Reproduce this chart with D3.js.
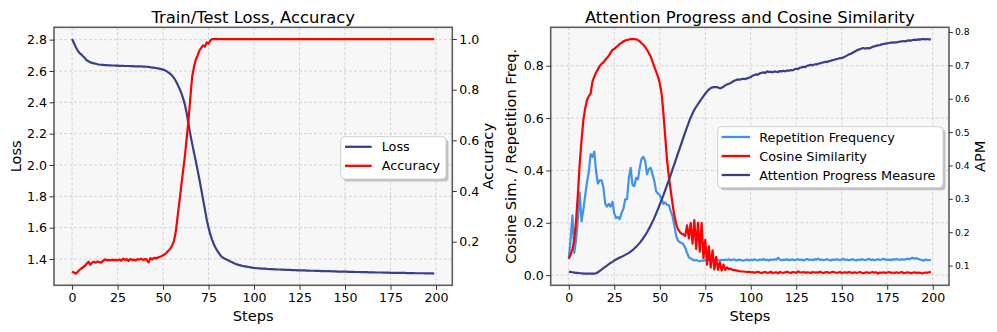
<!DOCTYPE html>
<html>
<head>
<meta charset="utf-8">
<script src="https://cdn.jsdelivr.net/npm/d3@7"></script>
<style>
  html, body { margin: 0; padding: 0; background: #ffffff; }
  svg { display: block; }
</style>
</head>
<body>
<svg id="chart" width="997" height="332"></svg>
<script>
// ---------------- DATA ----------------
const steps = d3.range(0, 200);

const lossValues = [
  2.804, 2.779, 2.753, 2.732, 2.715, 2.706, 2.694, 2.683, 2.668, 2.662, 2.655,
  2.652, 2.649, 2.646, 2.643, 2.641, 2.640, 2.639, 2.638, 2.637, 2.636,
  2.636, 2.635, 2.635, 2.634, 2.634, 2.633, 2.633, 2.633, 2.632, 2.632,
  2.632, 2.631, 2.631, 2.630, 2.630, 2.630, 2.629, 2.629, 2.628, 2.628,
  2.627, 2.626, 2.624, 2.622, 2.621, 2.619, 2.617, 2.615, 2.612, 2.609,
  2.604, 2.598, 2.590, 2.581, 2.569, 2.555, 2.536, 2.513, 2.488, 2.460,
  2.425, 2.385, 2.330, 2.260, 2.195, 2.135, 2.078, 2.023, 1.965, 1.906,
  1.843, 1.779, 1.715, 1.651, 1.600, 1.555, 1.520, 1.491, 1.468, 1.449,
  1.432, 1.417, 1.408, 1.401, 1.396, 1.390, 1.384, 1.379, 1.373, 1.368,
  1.364, 1.361, 1.358, 1.355, 1.353, 1.351, 1.349, 1.347, 1.345, 1.343,
  1.342, 1.341, 1.340, 1.339, 1.338, 1.338, 1.337, 1.336, 1.336, 1.335,
  1.334, 1.334, 1.333, 1.333, 1.332, 1.332, 1.331, 1.331, 1.330, 1.330,
  1.329, 1.329, 1.329, 1.328, 1.328, 1.327, 1.327, 1.327, 1.326, 1.326,
  1.325, 1.325, 1.325, 1.324, 1.324, 1.324, 1.323, 1.323, 1.323, 1.322,
  1.322, 1.322, 1.321, 1.321, 1.321, 1.320, 1.320, 1.320, 1.319, 1.319,
  1.319, 1.318, 1.318, 1.318, 1.318, 1.317, 1.317, 1.317, 1.316, 1.316,
  1.316, 1.316, 1.315, 1.315, 1.315, 1.315, 1.314, 1.314, 1.314, 1.314,
  1.313, 1.313, 1.313, 1.313, 1.312, 1.312, 1.312, 1.312, 1.311, 1.311,
  1.311, 1.311, 1.311, 1.310, 1.310, 1.310, 1.310, 1.310, 1.309, 1.309,
  1.309, 1.309, 1.309, 1.308, 1.308, 1.308, 1.308, 1.308, 1.307
];

const accuracyValues = [
  0.083, 0.078, 0.074, 0.080, 0.088, 0.094, 0.099, 0.104, 0.113, 0.121, 0.108,
  0.118, 0.121, 0.117, 0.122, 0.119, 0.117, 0.124, 0.130, 0.127, 0.128,
  0.126, 0.129, 0.127, 0.128, 0.126, 0.130, 0.125, 0.133, 0.128, 0.131,
  0.124, 0.132, 0.127, 0.129, 0.126, 0.131, 0.129, 0.133, 0.128, 0.131,
  0.130, 0.118, 0.135, 0.130, 0.136, 0.134, 0.137, 0.139, 0.142, 0.146,
  0.151, 0.157, 0.165, 0.172, 0.185, 0.203, 0.240, 0.301, 0.360, 0.420,
  0.480, 0.538, 0.610, 0.682, 0.770, 0.853, 0.890, 0.919, 0.935, 0.955,
  0.965, 0.975, 0.970, 0.987, 0.982, 0.995, 1.000, 1.000, 1.000, 1.000,
  1, 1, 1, 1, 1, 1, 1, 1, 1, 1,
  1, 1, 1, 1, 1, 1, 1, 1, 1, 1,
  1, 1, 1, 1, 1, 1, 1, 1, 1, 1,
  1, 1, 1, 1, 1, 1, 1, 1, 1, 1,
  1, 1, 1, 1, 1, 1, 1, 1, 1, 1,
  1, 1, 1, 1, 1, 1, 1, 1, 1, 1,
  1, 1, 1, 1, 1, 1, 1, 1, 1, 1,
  1, 1, 1, 1, 1, 1, 1, 1, 1, 1,
  1, 1, 1, 1, 1, 1, 1, 1, 1, 1,
  1, 1, 1, 1, 1, 1, 1, 1, 1, 1,
  1, 1, 1, 1, 1, 1, 1, 1, 1, 1,
  1, 1, 1, 1, 1, 1, 1, 1, 1
];

const repetitionFreq = [
  0.061, 0.140, 0.228, 0.085, 0.135, 0.215, 0.315, 0.205, 0.250, 0.305,
  0.355, 0.395, 0.462, 0.452, 0.472, 0.395, 0.350, 0.362, 0.362, 0.336,
  0.273, 0.262, 0.272, 0.262, 0.280, 0.235, 0.218, 0.222, 0.214, 0.238,
  0.253, 0.290, 0.290, 0.370, 0.410, 0.345, 0.340, 0.372, 0.366, 0.410,
  0.445, 0.452, 0.435, 0.385, 0.405, 0.410, 0.385, 0.360, 0.320, 0.312,
  0.305, 0.292, 0.272, 0.278, 0.268, 0.268, 0.245, 0.225, 0.190, 0.150,
  0.132, 0.126, 0.123, 0.118, 0.105, 0.085, 0.068, 0.064, 0.060, 0.056,
  0.058, 0.055, 0.053, 0.056, 0.055,
  0.057, 0.058, 0.060, 0.058, 0.059, 0.057, 0.060, 0.058, 0.056, 0.059,
  0.057, 0.060, 0.058, 0.061, 0.057, 0.059, 0.060, 0.056, 0.058, 0.059,
  0.057, 0.055, 0.058, 0.060, 0.056, 0.059, 0.057, 0.061, 0.058, 0.056,
  0.060, 0.058, 0.062, 0.057, 0.059, 0.056, 0.060, 0.058, 0.061, 0.059,
  0.066, 0.060, 0.057, 0.059, 0.058, 0.061, 0.057, 0.059, 0.060, 0.057,
  0.059, 0.061, 0.058, 0.060, 0.056, 0.059, 0.062, 0.058, 0.060, 0.057,
  0.061, 0.059, 0.063, 0.058, 0.060, 0.057, 0.059, 0.061, 0.058, 0.056,
  0.060, 0.058, 0.061, 0.059, 0.057, 0.060, 0.062, 0.058, 0.060, 0.057,
  0.059, 0.061, 0.058, 0.056, 0.060, 0.058, 0.061, 0.059, 0.057, 0.060,
  0.062, 0.058, 0.060, 0.057, 0.059, 0.061, 0.058, 0.060, 0.063, 0.059,
  0.058, 0.060, 0.057, 0.061, 0.059, 0.062, 0.060, 0.058, 0.061, 0.059,
  0.060, 0.063, 0.061, 0.064, 0.066, 0.063, 0.065, 0.062, 0.060, 0.058,
  0.055, 0.060, 0.058, 0.057, 0.059
];

const cosineSim = [
  0.064, 0.078, 0.100, 0.132, 0.208, 0.311, 0.426, 0.515, 0.592, 0.637, 0.669,
  0.684, 0.694, 0.739, 0.758, 0.774, 0.786, 0.799, 0.807, 0.813, 0.822,
  0.830, 0.838, 0.850, 0.861, 0.864, 0.871, 0.876, 0.884, 0.887, 0.893,
  0.896, 0.899, 0.900, 0.902, 0.902, 0.902, 0.901, 0.898, 0.893, 0.886,
  0.880, 0.871, 0.861, 0.848, 0.835, 0.816, 0.797, 0.777, 0.758, 0.733,
  0.694, 0.618, 0.528, 0.439, 0.375, 0.324, 0.272, 0.228, 0.196, 0.176,
  0.165, 0.158, 0.155, 0.150, 0.190, 0.140, 0.200, 0.120, 0.210, 0.100,
  0.200, 0.090, 0.200, 0.065, 0.135, 0.040, 0.110, 0.030, 0.095, 0.022,
  0.070, 0.020, 0.050, 0.018, 0.040, 0.020, 0.030, 0.022, 0.025, 0.020,
  0.019, 0.018, 0.016, 0.015, 0.014, 0.014, 0.013, 0.012, 0.013, 0.011,
  0.012, 0.009, 0.011, 0.013, 0.010, 0.008, 0.011, 0.012, 0.009, 0.010,
  0.013, 0.008, 0.010, 0.011, 0.007, 0.012, 0.010, 0.009, 0.011, 0.013,
  0.010, 0.008, 0.012, 0.011, 0.009, 0.014, 0.011, 0.010, 0.012, 0.009,
  0.011, 0.010, 0.008, 0.012, 0.010, 0.011, 0.009, 0.013, 0.010, 0.008,
  0.011, 0.012, 0.009, 0.010, 0.013, 0.011, 0.009, 0.010, 0.012, 0.008,
  0.010, 0.011, 0.009, 0.012, 0.010, 0.008, 0.011, 0.009, 0.010, 0.012,
  0.009, 0.007, 0.010, 0.011, 0.008, 0.010, 0.012, 0.009, 0.011, 0.006,
  0.010, 0.009, 0.011, 0.008, 0.010, 0.012, 0.009, 0.010, 0.008, 0.011,
  0.009, 0.010, 0.012, 0.008, 0.009, 0.011, 0.010, 0.007, 0.009, 0.011,
  0.008, 0.010, 0.009, 0.007, 0.008, 0.010, 0.009, 0.011, 0.013
];

const apmValues = [
  0.081, 0.081, 0.080, 0.079, 0.078, 0.078, 0.077, 0.077, 0.076, 0.076,
  0.076, 0.076, 0.076, 0.076, 0.076, 0.077, 0.080, 0.084, 0.088, 0.092,
  0.096, 0.100, 0.104, 0.108, 0.111, 0.115, 0.118, 0.121, 0.124, 0.126,
  0.129, 0.132, 0.135, 0.138, 0.142, 0.146, 0.151, 0.156, 0.162, 0.168,
  0.175, 0.183, 0.191, 0.200, 0.210, 0.220, 0.231, 0.243, 0.256, 0.269,
  0.283, 0.297, 0.311, 0.326, 0.341, 0.356, 0.372, 0.388, 0.404, 0.420,
  0.436, 0.452, 0.468, 0.484, 0.500, 0.515, 0.530, 0.544, 0.556, 0.567,
  0.576, 0.584, 0.592, 0.600, 0.608, 0.615, 0.622, 0.628, 0.632, 0.634,
  0.635, 0.635, 0.634, 0.631, 0.633, 0.636, 0.640, 0.643, 0.645, 0.647,
  0.651, 0.654, 0.656, 0.658, 0.657, 0.659, 0.660, 0.659, 0.661, 0.663,
  0.665, 0.669, 0.671, 0.673, 0.672, 0.676, 0.678, 0.679, 0.677, 0.682,
  0.680, 0.681, 0.679, 0.682, 0.681, 0.680, 0.683, 0.682, 0.684, 0.682,
  0.685, 0.684, 0.686, 0.685, 0.688, 0.690, 0.689, 0.693, 0.694, 0.696,
  0.695, 0.699, 0.700, 0.702, 0.700, 0.703, 0.703, 0.705, 0.706, 0.708,
  0.709, 0.711, 0.710, 0.713, 0.714, 0.716, 0.717, 0.719, 0.720, 0.722,
  0.722, 0.724, 0.727, 0.730, 0.733, 0.735, 0.738, 0.741, 0.744, 0.747,
  0.748, 0.751, 0.752, 0.750, 0.752, 0.751, 0.753, 0.756, 0.757, 0.759,
  0.760, 0.761, 0.763, 0.764, 0.765, 0.766, 0.767, 0.768, 0.768, 0.769,
  0.769, 0.770, 0.771, 0.772, 0.773, 0.772, 0.774, 0.775, 0.774, 0.776,
  0.777, 0.776, 0.778, 0.777, 0.779, 0.779, 0.778, 0.779, 0.778, 0.778
];

const xTicks = [0, 25, 50, 75, 100, 125, 150, 175, 200];
const lossTicks = [1.4, 1.6, 1.8, 2.0, 2.2, 2.4, 2.6, 2.8];
const accTicks = [0.2, 0.4, 0.6, 0.8, 1.0];
const cosTicks = [0.0, 0.2, 0.4, 0.6, 0.8];
const apmTicks = [0.1, 0.2, 0.3, 0.4, 0.5, 0.6, 0.7, 0.8];

[lossValues, accuracyValues, repetitionFreq, cosineSim, apmValues].forEach((a, i) => {
  if (a.length !== steps.length) throw new Error('series ' + i + ' has length ' + a.length);
});

// ---------------- STYLE ----------------
const FONT = '"DejaVu Sans", "Liberation Sans", sans-serif';
const NAVY = '#3b3e8a';
const RED = '#ff0000';
const BLUE = '#3f93ea';
const SPINE = '#5e5e5e';

const svg = d3.select('#chart');

function padded(vals) {
  const [a, b] = d3.extent(vals);
  const r = b - a;
  return [a - 0.05 * r, b + 0.05 * r];
}

function styleAxis(g, size) {
  g.attr('font-family', FONT).attr('font-size', size);
  g.select('.domain').remove();
  g.selectAll('.tick line').attr('stroke', '#333').attr('stroke-width', 1);
  g.selectAll('.tick text').attr('fill', '#000');
}

function drawLegend(g, box, items) {
  g.append('rect')
    .attr('x', box.x + 2.5).attr('y', box.y + 2.5)
    .attr('width', box.w).attr('height', box.h)
    .attr('rx', 4).attr('fill', '#8c8c8c').attr('opacity', 0.5);
  g.append('rect')
    .attr('x', box.x).attr('y', box.y)
    .attr('width', box.w).attr('height', box.h)
    .attr('rx', 4).attr('fill', '#ffffff').attr('stroke', '#d0d0d0').attr('stroke-width', 1);
  items.forEach((it, i) => {
    const yy = box.rowY0 + i * box.rowStep;
    g.append('line')
      .attr('x1', box.lx0).attr('x2', box.lx1).attr('y1', yy).attr('y2', yy)
      .attr('stroke', it.color).attr('stroke-width', 2.3);
    g.append('text')
      .attr('x', box.tx).attr('y', yy).attr('dy', '0.36em')
      .attr('font-family', FONT).attr('font-size', 12.8).attr('fill', '#000')
      .text(it.label);
  });
}

function panel(cfg) {
  const b = cfg.box;
  const g = svg.append('g');
  const x = d3.scaleLinear().domain(padded(steps)).range([b.x0, b.x1]);
  const yL = d3.scaleLinear().domain(padded(cfg.leftData)).range([b.y1, b.y0]);
  const yR = d3.scaleLinear().domain(padded(cfg.rightData)).range([b.y1, b.y0]);

  g.append('rect')
    .attr('x', b.x0).attr('y', b.y0)
    .attr('width', b.x1 - b.x0).attr('height', b.y1 - b.y0)
    .attr('fill', '#f7f7f7');

  const grid = g.append('g')
    .attr('stroke', '#cbcbcb').attr('stroke-width', 0.8).attr('stroke-dasharray', '3,2');
  xTicks.forEach(t => grid.append('line')
    .attr('x1', x(t)).attr('x2', x(t)).attr('y1', b.y0).attr('y2', b.y1));
  cfg.leftTicks.forEach(t => grid.append('line')
    .attr('x1', b.x0).attr('x2', b.x1).attr('y1', yL(t)).attr('y2', yL(t)));

  cfg.series.forEach(s => {
    const ys = s.axis === 'left' ? yL : yR;
    g.append('path')
      .datum(s.values)
      .attr('fill', 'none')
      .attr('stroke', s.color)
      .attr('stroke-width', 2.2)
      .attr('stroke-linejoin', 'round')
      .attr('d', d3.line().x((d, i) => x(steps[i])).y(d => ys(d)));
  });

  // spines
  g.append('rect')
    .attr('x', b.x0).attr('y', b.y0)
    .attr('width', b.x1 - b.x0).attr('height', b.y1 - b.y0)
    .attr('fill', 'none').attr('stroke', SPINE).attr('stroke-width', 1.6);

  // axes
  g.append('g').attr('transform', `translate(0,${b.y1})`)
    .call(d3.axisBottom(x).tickValues(xTicks).tickSize(4.5).tickPadding(3).tickFormat(d3.format('d')))
    .call(a => styleAxis(a, 12.6));
  g.append('g').attr('transform', `translate(${b.x0},0)`)
    .call(d3.axisLeft(yL).tickValues(cfg.leftTicks).tickSize(4.5).tickPadding(2.5).tickFormat(d3.format('.1f')))
    .call(a => styleAxis(a, 12.6));
  g.append('g').attr('transform', `translate(${b.x1},0)`)
    .call(d3.axisRight(yR).tickValues(cfg.rightTicks).tickSize(cfg.rightTickSize).tickPadding(cfg.rightPad).tickFormat(d3.format('.1f')))
    .call(a => styleAxis(a, cfg.rightFont));

  // title
  g.append('text')
    .attr('x', (b.x0 + b.x1) / 2).attr('y', 22.5)
    .attr('text-anchor', 'middle')
    .attr('font-family', FONT).attr('font-size', 16.4).attr('fill', '#000')
    .text(cfg.title);
  // x label
  g.append('text')
    .attr('x', (b.x0 + b.x1) / 2).attr('y', 320.5)
    .attr('text-anchor', 'middle')
    .attr('font-family', FONT).attr('font-size', 14.6).attr('fill', '#000')
    .text('Steps');
  // y labels
  const cy = (b.y0 + b.y1) / 2;
  g.append('text')
    .attr('transform', `translate(${cfg.leftLabelX},${cy}) rotate(-90)`)
    .attr('text-anchor', 'middle')
    .attr('font-family', FONT).attr('font-size', 14.6).attr('fill', '#000')
    .text(cfg.leftLabel);
  g.append('text')
    .attr('transform', `translate(${cfg.rightLabelX},${cy}) rotate(-90)`)
    .attr('text-anchor', 'middle')
    .attr('font-family', FONT).attr('font-size', 14.6).attr('fill', '#000')
    .text(cfg.rightLabel);

  drawLegend(g, cfg.legend, cfg.series.map(s => ({ label: s.label, color: s.color })));
}

// Left panel
panel({
  box: { x0: 54, x1: 452.3, y0: 27.3, y1: 285.3 },
  title: 'Train/Test Loss, Accuracy',
  leftData: lossValues, rightData: accuracyValues,
  leftTicks: lossTicks, rightTicks: accTicks,
  rightTickSize: 4.5, rightPad: 2.5, rightFont: 12.6,
  leftLabel: 'Loss', leftLabelX: 20.7,
  rightLabel: 'Accuracy', rightLabelX: 493.3,
  series: [
    { label: 'Loss', values: lossValues, axis: 'left', color: NAVY },
    { label: 'Accuracy', values: accuracyValues, axis: 'right', color: RED }
  ],
  legend: { x: 340.7, y: 136.7, w: 105.3, h: 42.3, rowY0: 146.8, rowStep: 19,
            lx0: 345, lx1: 371.7, tx: 381.7 }
});

// Right panel
panel({
  box: { x0: 550.7, x1: 949, y0: 27.3, y1: 285.3 },
  title: 'Attention Progress and Cosine Similarity',
  leftData: cosineSim, rightData: apmValues,
  leftTicks: cosTicks, rightTicks: apmTicks,
  rightTickSize: 3.8, rightPad: 2.2, rightFont: 9.2,
  leftLabel: 'Cosine Sim. / Repetition Freq.', leftLabelX: 516,
  rightLabel: 'APM', rightLabelX: 985.3,
  series: [
    { label: 'Repetition Frequency', values: repetitionFreq, axis: 'left', color: BLUE },
    { label: 'Cosine Similarity', values: cosineSim, axis: 'left', color: RED },
    { label: 'Attention Progress Measure', values: apmValues, axis: 'right', color: NAVY }
  ],
  legend: { x: 717.7, y: 126.7, w: 225.3, h: 61, rowY0: 137, rowStep: 19,
            lx0: 721.7, lx1: 750, tx: 759.3 }
});
</script>
</body>
</html>
